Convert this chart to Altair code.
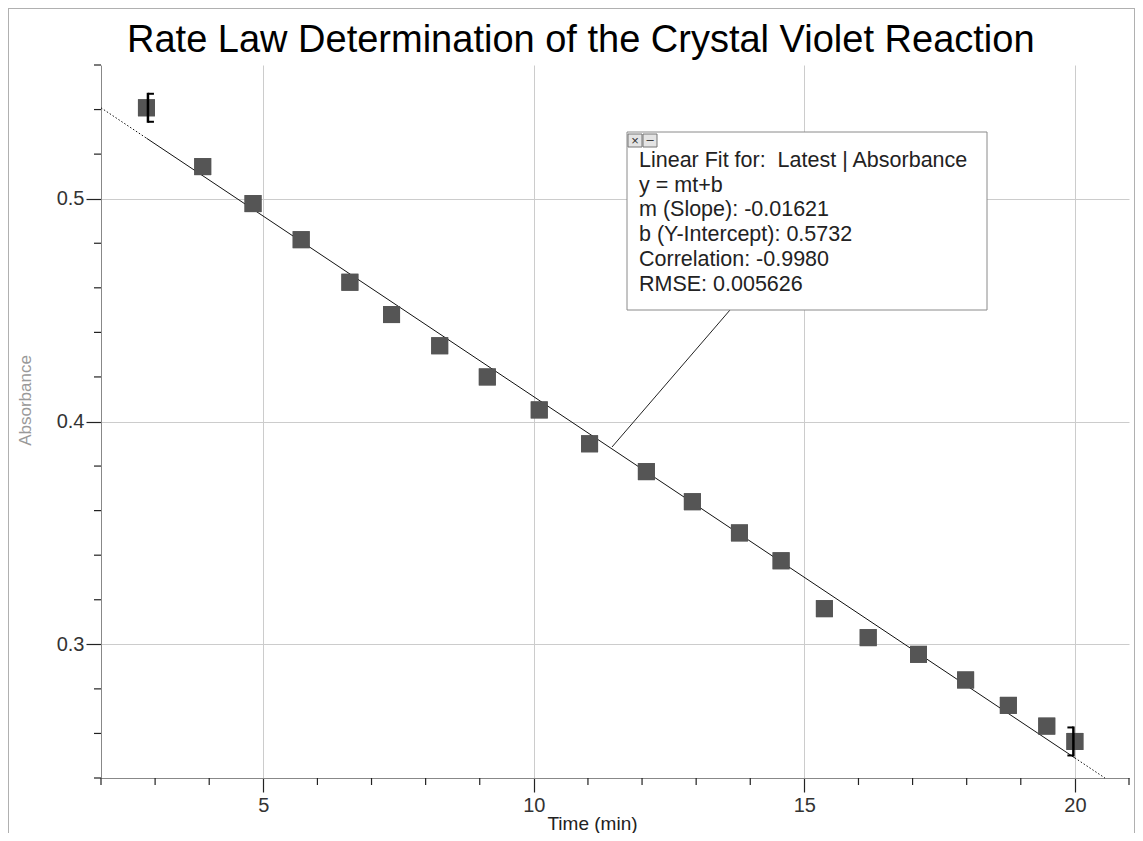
import altair as alt
import pandas as pd

# ---- data ----
time_min = [2.84, 3.88, 4.81, 5.70, 6.60, 7.37, 8.26, 9.14, 10.10, 11.03, 12.08,
            12.93, 13.80, 14.57, 15.37, 16.18, 17.11, 17.98, 18.77, 19.48, 20.00]
absorbance = [0.5408, 0.5144, 0.4978, 0.4816, 0.4625, 0.4480, 0.4340, 0.4200, 0.4052,
              0.3900, 0.3775, 0.3640, 0.3500, 0.3375, 0.3160, 0.3030, 0.2955, 0.2840,
              0.2726, 0.2633, 0.2564]
slope = -0.01621
intercept = 0.5732
x_domain = [2, 21]
y_domain = [0.24, 0.56]
x_major = [5, 10, 15, 20]
x_minor = [2, 3, 4, 6, 7, 8, 9, 11, 12, 13, 14, 16, 17, 18, 19, 21]
y_major = [0.3, 0.4, 0.5]
y_minor = [0.24, 0.26, 0.28, 0.32, 0.34, 0.36, 0.38, 0.42, 0.44, 0.46, 0.48, 0.52, 0.54, 0.56]
fit_lines = ["Linear Fit for:\u00a0 Latest | Absorbance", "y = mt+b", "m (Slope): -0.01621",
             "b (Y-Intercept): 0.5732", "Correlation: -0.9980", "RMSE: 0.005626"]
title_text = "Rate Law Determination of the Crystal Violet Reaction"

FONT = "Liberation Sans"
W, H = 1028, 713

pts = pd.DataFrame({"t": time_min, "A": absorbance})

xs = alt.Scale(domain=x_domain, nice=False, zero=False)
ys = alt.Scale(domain=y_domain, nice=False, zero=False)

t0, t1 = time_min[0], time_min[-1]
t_end = (intercept - y_domain[0]) / -slope
solid = pd.DataFrame({"t": [t0, t1]})
solid["A"] = intercept + slope * solid["t"]
dot_l = pd.DataFrame({"t": [x_domain[0], t0]})
dot_l["A"] = intercept + slope * dot_l["t"]
dot_r = pd.DataFrame({"t": [t1, t_end]})
dot_r["A"] = intercept + slope * dot_r["t"]

base_axis_x = alt.Axis(values=x_major, tickSize=14, tickColor="#222", tickWidth=1.2,
                       domainColor="#888", grid=True, gridColor="#cccccc",
                       labelFont=FONT, labelFontSize=20, labelColor="#333",
                       labelPadding=3, title="Time (min)", titleFont=FONT,
                       titleFontSize=19, titleFontWeight="normal", titleColor="#222",
                       titleX=491, titleY=51, titleAlign="center", titleBaseline="alphabetic")
base_axis_y = alt.Axis(values=y_major, format=".1f", tickSize=15, tickColor="#222",
                       tickWidth=1.2, domainColor="#888", grid=True, gridColor="#cccccc",
                       labelFont=FONT, labelFontSize=20, labelColor="#333",
                       labelPadding=2, title="Absorbance", titleFont=FONT,
                       titleFontSize=17, titleFontWeight="normal", titleColor="#999",
                       titleX=-76, titleY=335, titleBaseline="middle", titleAlign="center")

points = alt.Chart(pts).mark_square(size=289, color="#555555", opacity=1).encode(
    x=alt.X("t:Q", scale=xs, axis=base_axis_x),
    y=alt.Y("A:Q", scale=ys, axis=base_axis_y),
)

fit_solid = alt.Chart(solid).mark_line(color="#111", strokeWidth=1).encode(
    x=alt.X("t:Q", scale=xs), y=alt.Y("A:Q", scale=ys))
fit_dl = alt.Chart(dot_l).mark_line(color="#111", strokeWidth=1, strokeDash=[1.5, 2]).encode(
    x=alt.X("t:Q", scale=xs), y=alt.Y("A:Q", scale=ys))
fit_dr = alt.Chart(dot_r).mark_line(color="#111", strokeWidth=1, strokeDash=[1.5, 2]).encode(
    x=alt.X("t:Q", scale=xs), y=alt.Y("A:Q", scale=ys))

# minor ticks
xminor = alt.Chart(pd.DataFrame({"t": x_minor})).mark_rule(color="#222", strokeWidth=1.2).encode(
    x=alt.X("t:Q", scale=xs), y=alt.value(H), y2=alt.value(H + 7))
yminor = alt.Chart(pd.DataFrame({"A": y_minor})).mark_rule(color="#222", strokeWidth=1.2).encode(
    y=alt.Y("A:Q", scale=ys), x=alt.value(-7), x2=alt.value(0))

# range brackets
br_first = pts.iloc[[0]]
br_last = pts.iloc[[-1]]
def bracket(df, sign):
    v = alt.Chart(df).mark_rule(color="black", strokeWidth=2.5, xOffset=1.5 * sign,
                                x2Offset=1.5 * sign, yOffset=-15, y2Offset=15).encode(
        x=alt.X("t:Q", scale=xs), x2="t:Q", y=alt.Y("A:Q", scale=ys), y2="A:Q")
    top = alt.Chart(df).mark_rule(color="black", strokeWidth=2, xOffset=1.5 * sign,
                                  x2Offset=7.5 * sign, yOffset=-14, y2Offset=-14).encode(
        x=alt.X("t:Q", scale=xs), x2="t:Q", y=alt.Y("A:Q", scale=ys), y2="A:Q")
    bot = alt.Chart(df).mark_rule(color="black", strokeWidth=2, xOffset=1.5 * sign,
                                  x2Offset=7.5 * sign, yOffset=14, y2Offset=14).encode(
        x=alt.X("t:Q", scale=xs), x2="t:Q", y=alt.Y("A:Q", scale=ys), y2="A:Q")
    return v + top + bot

one = pd.DataFrame({"k": [0]})

frame_top = alt.Chart(one).mark_rule(color="#b0b0b0", strokeWidth=1).encode(
    x=alt.value(-93), x2=alt.value(1034), y=alt.value(-56.5))
frame_left = alt.Chart(one).mark_rule(color="#b0b0b0", strokeWidth=1).encode(
    x=alt.value(-92.5), y=alt.value(-57), y2=alt.value(H + 55))
frame_right = alt.Chart(one).mark_rule(color="#b0b0b0", strokeWidth=1).encode(
    x=alt.value(1033.5), y=alt.value(-57), y2=alt.value(H + 55))
connector = alt.Chart(one).mark_rule(color="#222", strokeWidth=1).encode(
    x=alt.value(629), x2=alt.value(511), y=alt.value(245), y2=alt.value(382))
box = alt.Chart(one).mark_rect(fill="white", stroke="#8a8a8a", strokeWidth=1).encode(
    x=alt.value(526), x2=alt.value(886), y=alt.value(67), y2=alt.value(245))
btn1 = alt.Chart(one).mark_rect(fill="#e4e4e4", stroke="#777", strokeWidth=1).encode(
    x=alt.value(527), x2=alt.value(541), y=alt.value(69), y2=alt.value(82))
btn2 = alt.Chart(one).mark_rect(fill="#e4e4e4", stroke="#777", strokeWidth=1).encode(
    x=alt.value(542), x2=alt.value(556), y=alt.value(69), y2=alt.value(82))
btn1_t = alt.Chart(one).mark_text(text="×", font=FONT, fontSize=13, color="#333",
                                  baseline="middle", align="center").encode(
    x=alt.value(534), y=alt.value(75.5))
btn2_t = alt.Chart(one).mark_text(text="–", font=FONT, fontSize=13, color="#333",
                                  baseline="middle", align="center").encode(
    x=alt.value(549), y=alt.value(75))
fit_text = alt.Chart(one).mark_text(font=FONT, fontSize=21.5, color="#222", align="left",
                                    baseline="alphabetic", lineHeight=24.7).encode(
    x=alt.value(538), y=alt.value(102), text=alt.value(fit_lines))

title = alt.Chart(one).mark_text(text=title_text, font=FONT, fontSize=38, color="black",
                                 align="left", baseline="alphabetic").encode(
    x=alt.value(26), y=alt.value(-13))

chart = alt.layer(
    frame_top, frame_left, frame_right, points, xminor, yminor, fit_dl, fit_dr, fit_solid,
    points, bracket(br_first, 1), bracket(br_last, -1),
    connector, box, btn1, btn2, btn1_t, btn2_t, fit_text, title,
).properties(
    width=W, height=H,
    autosize=alt.AutoSizeParams(type="none"),
    padding={"left": 93, "top": 57, "right": 6, "bottom": 55},
    background="white",
).configure_view(stroke=None)

chart.save("out.html", embed_options={"renderer": "svg", "actions": False})
